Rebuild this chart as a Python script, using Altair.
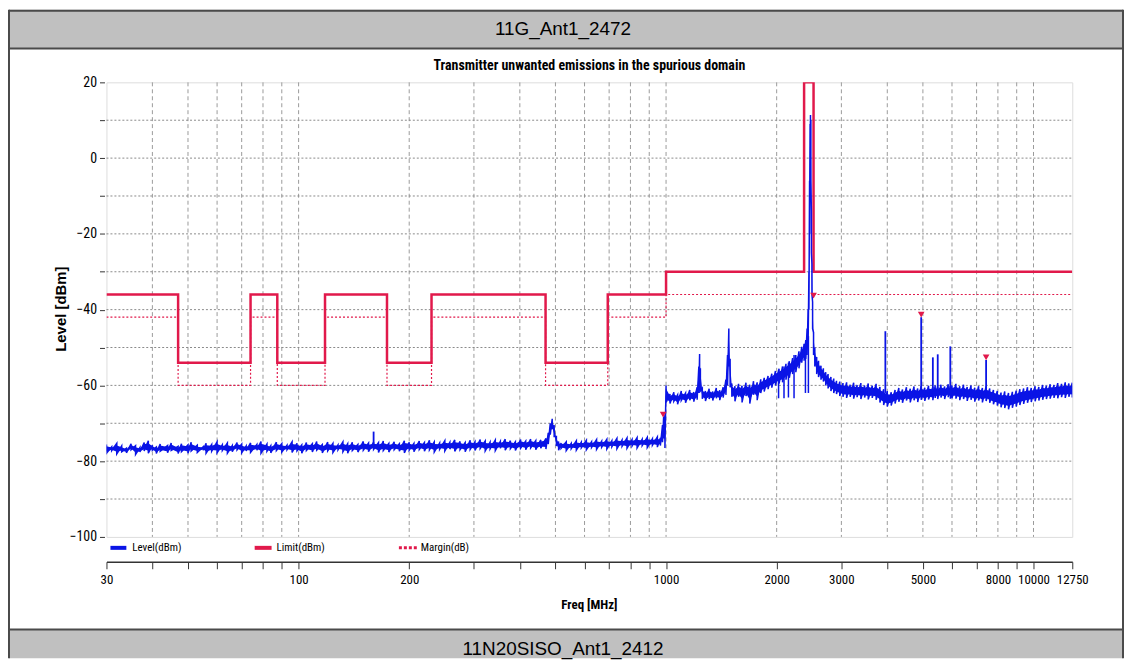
import altair as alt
import pandas as pd

# ---------------- data ----------------
header_top = "11G_Ant1_2472"
header_bottom = "11N20SISO_Ant1_2412"
chart_title = "Transmitter unwanted emissions in the spurious domain"
x_title = "Freq [MHz]"
y_title = "Level [dBm]"
legend_labels = ["Level(dBm)", "Limit(dBm)", "Margin(dB)"]

# limit (step) line and margin line
limit_edges = [30, 47, 74, 87.5, 118, 174, 230, 470, 694, 1000, 2375, 2520, 12750]
limit_vals = [-36, -54, -36, -54, -36, -54, -36, -54, -36, -30, 20, -30]
margin_vals = [-42, -60, -42, -60, -42, -60, -42, -60, -42, -36, None, -36]

# measured trace: noise band (upper / lower envelope)
band_f = [
    30, 31, 32, 33, 34, 35, 36, 37, 38, 39,
    40, 41, 42, 44, 45, 47, 48, 50, 51, 53,
    55, 56, 58, 60, 62, 64, 66, 68, 70, 72,
    74, 77, 79, 82, 84, 87, 90, 93, 96, 99,
    102, 105, 109, 112, 116, 120, 124, 128, 132, 136,
    140, 145, 150, 155, 160, 165, 170, 176, 182, 188,
    194, 200, 206, 213, 220, 227, 234, 242, 250, 258,
    266, 275, 284, 293, 302, 312, 322, 332, 343, 354,
    365, 377, 389, 402, 415, 428, 442, 456, 471, 478,
    484, 490, 496, 503, 510, 518, 535, 552, 570, 588,
    607, 627, 647, 668, 690, 712, 735, 759, 783, 808,
    834, 861, 889, 918, 947, 965, 978, 985, 993,
    1000, 1025, 1050, 1075, 1100, 1130, 1160, 1190, 1215, 1228,
    1234, 1240, 1255, 1280, 1310, 1340, 1370, 1400, 1430, 1455,
    1470, 1482, 1494, 1510, 1540, 1575, 1610, 1650, 1690, 1730,
    1770, 1810, 1850, 1895, 1940, 1985, 2030, 2075, 2120, 2165,
    2210, 2255, 2300, 2340, 2375, 2400, 2420, 2435, 2448, 2458,
    2466, 2472, 2478, 2486, 2495, 2505, 2520, 2540, 2570, 2600,
    2640, 2680, 2720, 2760, 2810, 2860, 2910, 2970, 3030, 3100,
    3170, 3240, 3310, 3390, 3470, 3550, 3640, 3730, 3820, 3910,
    4000, 4100, 4200, 4300, 4400, 4510, 4620, 4730, 4840, 4947,
    5060, 5180, 5322, 5400, 5487, 5600, 5730, 5860, 5937, 6000,
    6150, 6300, 6450, 6600, 6760, 6920, 7090, 7260, 7430, 7600,
    7780, 7970, 8160, 8350, 8550, 8760, 8970, 9180, 9400, 9630,
    9860, 10100, 10340, 10590, 10840, 11100, 11370, 11640, 11920, 12200,
    12480, 12750,
]
band_hi = [
    -75.6, -76.2, -75.3, -76.0, -76.6, -75.4, -75.9, -76.4, -75.1, -74.6,
    -75.8, -76.3, -75.5, -75.9, -75.2, -76.1, -75.4, -75.7, -75.0, -75.8,
    -76.2, -75.3, -75.6, -74.9, -75.7, -75.2, -75.9, -75.1, -75.5, -76.0,
    -75.2, -75.6, -74.8, -75.5, -75.9, -75.0, -75.4, -75.8, -74.9, -75.3,
    -75.7, -75.1, -75.4, -74.8, -75.6, -75.0, -75.3, -75.7, -74.9, -75.4,
    -75.0, -75.6, -74.8, -75.2, -75.0, -75.1, -74.7, -75.3, -74.9, -75.4,
    -74.6, -75.0, -75.3, -74.7, -75.1, -74.5, -74.9, -75.2, -74.6, -75.0,
    -74.4, -74.8, -75.1, -74.5, -74.9, -74.3, -74.7, -75.0, -74.4, -74.8,
    -74.2, -74.6, -74.9, -74.3, -74.7, -74.2, -74.6, -74.4, -74.0, -72.5,
    -70.0, -68.8, -70.5, -73.5, -74.8, -75.2, -74.9, -75.3, -74.6, -75.0,
    -74.5, -74.9, -74.3, -74.7, -74.2, -74.6, -74.0, -74.4, -73.9, -74.3,
    -73.8, -74.2, -73.7, -74.1, -73.6, -73.9, -70.5, -68.2, -67.8,
    -60.0, -62.3, -61.8, -62.5, -61.5, -62.0, -61.2, -61.8, -60.5, -55.0,
    -51.7, -55.5, -60.8, -61.5, -60.9, -61.6, -60.7, -61.3, -60.5, -58.5,
    -52.0, -45.0, -53.0, -59.5, -60.2, -59.6, -60.1, -59.3, -59.8, -58.9,
    -59.2, -58.4, -58.0, -57.5, -56.9, -56.2, -55.6, -55.0, -54.3, -53.6,
    -52.8, -52.0, -51.0, -49.8, -49.0, -48.0, -45.0, -40.0, -30.0, -6.0,
    9.0, 11.4, 10.0, -14.0, -28.0, -38.0, -46.0, -50.0, -52.5, -53.5,
    -54.8, -55.5, -56.5, -57.0, -57.8, -58.2, -58.8, -59.0, -59.4, -59.2,
    -59.8, -59.3, -59.9, -59.4, -60.0, -59.5, -60.1, -59.6, -60.4, -61.0,
    -61.5, -61.8, -61.2, -60.7, -61.1, -60.5, -60.9, -60.3, -60.8, -60.2,
    -60.6, -60.1, -60.4, -60.0, -60.3, -59.8, -60.3, -59.7, -60.2, -60.0,
    -59.6, -60.2, -59.8, -60.4, -60.0, -60.6, -60.2, -60.7, -60.3, -60.8,
    -61.2, -61.5, -61.9, -61.6, -62.0, -61.7, -61.4, -61.0, -60.8, -60.5,
    -60.7, -60.2, -60.4, -59.9, -60.1, -59.7, -59.9, -59.4, -59.6, -59.2,
    -59.5, -59.3,
]
band_lo = [
    -77.9, -77.2, -78.1, -77.5, -77.8, -77.0, -78.2, -77.6, -77.3, -77.9,
    -77.1, -78.0, -77.4, -77.8, -77.2, -78.0, -77.5, -77.9, -77.3, -77.7,
    -77.1, -77.9, -77.4, -77.8, -77.2, -77.9, -77.5, -77.0, -77.8, -77.3,
    -77.7, -77.1, -77.9, -77.4, -77.8, -77.2, -77.6, -77.0, -77.7, -77.3,
    -77.9, -77.2, -77.6, -77.1, -77.8, -77.3, -77.7, -77.0, -77.5, -77.9,
    -77.2, -77.6, -77.1, -77.5, -76.9, -77.7, -77.2, -77.6, -77.0, -77.4,
    -77.8, -77.1, -77.5, -76.9, -77.4, -77.0, -77.6, -76.9, -77.3, -76.8,
    -77.4, -77.0, -77.5, -76.9, -77.2, -76.7, -77.3, -76.8, -77.2, -76.6,
    -77.1, -76.7, -77.2, -76.6, -77.0, -76.5, -77.0, -76.6, -76.8, -75.5,
    -73.0, -71.5, -73.5, -76.0, -77.1, -76.6, -77.2, -76.7, -77.1, -76.5,
    -77.0, -76.4, -76.9, -76.3, -76.8, -76.2, -76.7, -76.1, -76.6, -76.0,
    -76.5, -75.9, -76.4, -75.8, -76.3, -75.9, -75.0, -74.0, -76.5,
    -64.5, -64.8, -64.2, -65.0, -64.0, -64.6, -63.9, -64.3, -63.8, -62.0,
    -58.0, -61.5, -63.5, -64.1, -63.6, -64.0, -63.4, -63.9, -63.2, -62.5,
    -60.0, -55.0, -60.5, -63.0, -64.2, -63.0, -64.5, -62.8, -64.8, -62.5,
    -63.9, -62.0, -61.6, -61.0, -60.6, -60.0, -59.5, -59.2, -58.5, -58.0,
    -57.0, -56.5, -55.5, -54.0, -53.5, -53.0, -52.0, -50.0, -40.0, -20.0,
    -3.0, 8.0, -6.0, -25.0, -36.0, -45.0, -52.0, -55.0, -57.0, -57.8,
    -58.5, -59.0, -60.0, -60.8, -61.5, -62.0, -62.3, -62.8, -63.0, -63.3,
    -63.0, -63.5, -63.1, -63.6, -63.2, -63.7, -63.3, -63.8, -64.5, -65.2,
    -65.6, -65.3, -64.8, -64.3, -64.6, -64.0, -64.5, -63.9, -64.4, -63.8,
    -64.1, -63.7, -63.9, -63.3, -63.6, -63.2, -63.6, -63.1, -63.5, -63.4,
    -63.5, -63.9, -63.6, -64.1, -63.8, -64.3, -64.0, -64.5, -64.1, -64.6,
    -65.0, -65.3, -65.8, -66.0, -66.3, -65.9, -65.6, -65.2, -64.9, -64.6,
    -64.4, -64.2, -64.0, -63.8, -63.6, -63.5, -63.3, -63.4, -63.1, -63.3,
    -63.0, -63.2,
]

# narrow spurious spikes rising out of the band
spike_f = [160, 3952, 4947, 5322, 5487, 5937, 7430]
spike_top = [-72.2, -45.7, -42.0, -52.6, -51.8, -49.7, -53.3]
spike_base = [-75.5, -62.0, -61.0, -61.5, -61.0, -61.0, -62.0]

# narrow downward dips below the rising skirt
dip_f = [2024, 2094, 2153, 2230, 2395, 2440]
dip_top = [-56.0, -55.0, -54.0, -52.0, -49.0, -47.0]
dip_bottom = [-63.4, -63.4, -63.2, -63.4, -62.0, -62.0]

# peak markers
marker_f = [982, 2520, 4947, 7430]
marker_lvl = [-67.7, -36.3, -41.3, -52.6]

# axes / grid
grid_f = [40, 50, 60, 70, 80, 90, 100, 200, 300, 400, 500, 600, 700, 800, 900,
          1000, 2000, 3000, 4000, 5000, 6000, 7000, 8000, 9000, 10000]
tick_f = [30, 40, 50, 60, 70, 80, 90, 100, 200, 300, 400, 500, 600, 700, 800, 900,
          1000, 2000, 3000, 4000, 5000, 6000, 7000, 8000, 9000, 10000, 12750]
label_f = [30, 100, 200, 1000, 2000, 3000, 5000, 8000, 10000, 12750]
level_ticks = [-100, -90, -80, -70, -60, -50, -40, -30, -20, -10, 0, 10, 20]
grid_lvl = [-90, -80, -70, -60, -50, -40, -30, -20, -10, 0, 10]

# ---------------- styling ----------------
BLUE = "#0a14e6"
RED = "#e1194b"
NARROW = "Liberation Sans Narrow, Arial Narrow, Roboto Condensed, DejaVu Sans Condensed, Liberation Sans, sans-serif"
SANS = "Liberation Sans, Arial, sans-serif"
W, H = 971, 457

xs = alt.Scale(type="log", domain=[30, 12750], nice=False)
ys = alt.Scale(domain=[-100, 20], nice=False, zero=False)

label_list = ",".join(str(v) for v in label_f)
x_axis = alt.Axis(
    values=tick_f, format="d",
    labelExpr=f"indexof([{label_list}], datum.value) >= 0 ? datum.label : ''",
    offset=25, tickSize=7, labelPadding=5, title=None, grid=False,
    domainColor="#333333", domainWidth=1.5, tickColor="#333333", tickWidth=1,
    labelFont=NARROW, labelFontSize=13, labelColor="#000000",
    labelFlush=False, labelOverlap=False, labelBound=False,
)
y_axis = alt.Axis(
    values=level_ticks,
    labelExpr="datum.value % 20 == 0 ? datum.label : ''",
    offset=2, tickSize=5, labelPadding=3, title=None, grid=False, domain=False,
    tickColor="#333333", labelFont=NARROW, labelFontSize=14, labelColor="#000000",
    labelOverlap=False, labelBound=False,
)


def X(field):
    return alt.X(field, scale=xs, axis=x_axis)


def Y(field):
    return alt.Y(field, scale=ys, axis=y_axis)


dummy = pd.DataFrame({"k": [0]})

# ---------------- tables ----------------
lim_rows = []
for i, v in enumerate(limit_vals):
    lim_rows.append({"f": limit_edges[i], "v": v, "i": 2 * i})
    lim_rows.append({"f": limit_edges[i + 1], "v": v, "i": 2 * i + 1})
lim_df = pd.DataFrame(lim_rows)

mar_rows = []
seg = 0
for i, v in enumerate(margin_vals):
    if v is None:
        seg += 1
        continue
    mar_rows.append({"f": limit_edges[i], "v": v, "i": 2 * i, "seg": seg})
    mar_rows.append({"f": limit_edges[i + 1], "v": v, "i": 2 * i + 1, "seg": seg})
mar_df = pd.DataFrame(mar_rows)

band_df = pd.DataFrame({"f": band_f, "hi": band_hi, "lo": band_lo})
# solid core of the noise band and a zig-zag trace through the envelope
band_df["core_hi"] = band_df["hi"] - 0.2 * (band_df["hi"] - band_df["lo"])
band_df["core_lo"] = band_df["lo"] + 0.2 * (band_df["hi"] - band_df["lo"])
zig_rows = []
for i, (f, hi, lo) in enumerate(zip(band_f, band_hi, band_lo)):
    zig_rows.append({"f": f, "v": hi, "i": 2 * i})
    zig_rows.append({"f": f, "v": lo, "i": 2 * i + 1})
zig_df = pd.DataFrame(zig_rows)

spike_df = pd.DataFrame({"f": spike_f, "top": spike_top, "base": spike_base})
dip_df = pd.DataFrame({"f": dip_f, "top": dip_top, "bottom": dip_bottom})
mark_df = pd.DataFrame({"f": marker_f, "v": marker_lvl})
vgrid_df = pd.DataFrame({"f": grid_f})
hgrid_df = pd.DataFrame({"v": grid_lvl})


# ---------------- layers ----------------
def deco_rect(x, x2, y, y2, color):
    return alt.Chart(dummy).mark_rect(color=color).encode(
        x=alt.value(x), x2=alt.value(x2), y=alt.value(y), y2=alt.value(y2))


def deco_rule(x, x2, y, y2, color, width, dash=None):
    kw = dict(color=color, strokeWidth=width)
    if dash:
        kw["strokeDash"] = dash
    return alt.Chart(dummy).mark_rule(**kw).encode(
        x=alt.value(x), x2=alt.value(x2), y=alt.value(y), y2=alt.value(y2))


def deco_text(txt, x, y, size, font, bold=False, angle=0, align="center"):
    kw = dict(text=txt, font=font, fontSize=size, align=align, baseline="middle",
              color="#000000", fontWeight="bold" if bold else "normal")
    if angle:
        kw["angle"] = angle
    return alt.Chart(dummy).mark_text(**kw).encode(x=alt.value(x), y=alt.value(y))


FRAME = "#4a4a4a"
L, R = -98, 1022
TOP, BOT = -73, 579
CX = W / 2

decor = [
    deco_rect(L, R, TOP, -34, "#c0c0c0"),
    deco_rect(L, R, 550, BOT, "#c0c0c0"),
    deco_rule(L, R, TOP + 1, TOP + 1, FRAME, 2),
    deco_rule(L, R, -34, -34, FRAME, 2),
    deco_rule(L, R, 550, 550, FRAME, 2),
    deco_rule(L, L, TOP, BOT, FRAME, 2),
    deco_rule(R, R, TOP, BOT, FRAME, 2),
    deco_text(header_top, 459, -54, 19, SANS),
    deco_text(header_bottom, 459, 570, 19, SANS),
    deco_text(chart_title, CX, -16, 14, NARROW, bold=True),
    deco_text(x_title, CX, 525, 13, NARROW, bold=True),
    deco_text(y_title, -46, 228, 15, SANS, bold=True, angle=270),
]

vgrid = alt.Chart(vgrid_df).mark_rule(color="#9a9a9a", strokeWidth=1, strokeDash=[4, 3]).encode(
    x=X("f:Q"), y=alt.value(0), y2=alt.value(H))
hgrid = alt.Chart(hgrid_df).mark_rule(color="#8a8a8a", strokeWidth=1, strokeDash=[2, 2]).encode(
    y=Y("v:Q"), x=alt.value(0), x2=alt.value(W))

margin = alt.Chart(mar_df).mark_line(color=RED, strokeWidth=1.2, strokeDash=[2, 2], clip=True).encode(
    x=X("f:Q"), y=Y("v:Q"), detail="seg:N", order="i:Q")
limit = alt.Chart(lim_df).mark_line(color=RED, strokeWidth=2.5, clip=True).encode(
    x=X("f:Q"), y=Y("v:Q"), order="i:Q")

core = alt.Chart(band_df).mark_area(color=BLUE, opacity=1, clip=True).encode(
    x=X("f:Q"), y=Y("core_lo:Q"), y2="core_hi:Q")
zig = alt.Chart(zig_df).mark_line(color=BLUE, strokeWidth=1.5, clip=True).encode(
    x=X("f:Q"), y=Y("v:Q"), order="i:Q")
spikes = alt.Chart(spike_df).mark_rule(color=BLUE, strokeWidth=1.8, clip=True).encode(
    x=X("f:Q"), y=Y("base:Q"), y2="top:Q")
dips = alt.Chart(dip_df).mark_rule(color=BLUE, strokeWidth=1.5, clip=True).encode(
    x=X("f:Q"), y=Y("top:Q"), y2="bottom:Q")
markers = alt.Chart(mark_df).mark_point(shape="triangle-down", filled=True, color=RED, size=45, opacity=1).encode(
    x=X("f:Q"), y=Y("v:Q"))

LY = 468
legend = [
    deco_rule(4, 20, LY, LY, BLUE, 4),
    deco_text(legend_labels[0], 26, LY, 11, NARROW, align="left"),
    deco_rule(149, 166, LY, LY, RED, 4),
    deco_text(legend_labels[1], 171, LY, 11, NARROW, align="left"),
    deco_rule(294, 313, LY, LY, RED, 3, dash=[3, 2]),
    deco_text(legend_labels[2], 316, LY, 11, NARROW, align="left"),
]

chart = alt.layer(
    *decor, vgrid, hgrid, margin, limit, core, zig, spikes, dips, markers, *legend
).properties(
    width=W, height=H,
    padding={"left": 99, "top": 73, "right": 52, "bottom": 122},
    autosize=alt.AutoSizeParams(type="none"),
).configure_view(
    stroke="#222222", strokeWidth=1.2
).configure(background="white")

chart.save("out.html", embed_options={"renderer": "svg", "actions": False})
